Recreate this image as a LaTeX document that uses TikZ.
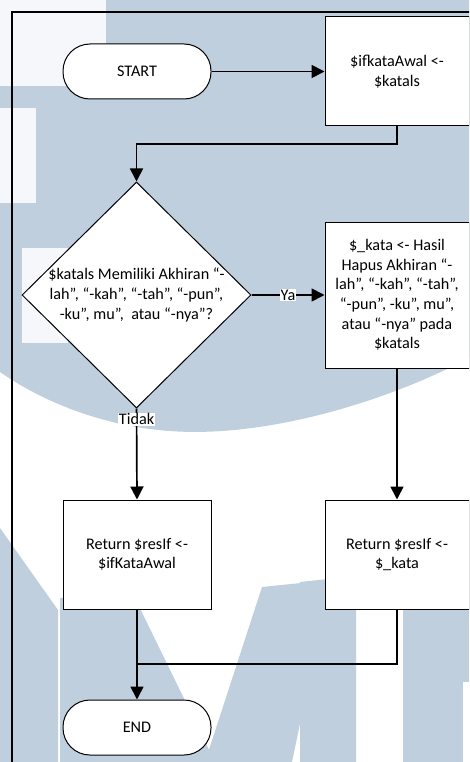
\documentclass[tikz,border=0pt]{standalone}
\usepackage{fontspec}
\setmainfont{Carlito}
\usetikzlibrary{arrows.meta,shapes.geometric}
\definecolor{wmblue}{RGB}{192,207,221}
\definecolor{wmlight}{RGB}{245,247,250}
\begin{document}
\begin{tikzpicture}[x=1pt,y=-1pt,
  every node/.style={font=\fontsize{16.2}{19.6}\selectfont},
  proc/.style={draw=black, line width=1pt, fill=white, minimum width=144pt,
               minimum height=109pt, align=center, inner sep=0pt},
  term/.style={draw=black, line width=1pt, fill=white, rounded corners=27pt,
               minimum width=148pt, minimum height=55pt, inner sep=0pt},
  decision/.style={draw=black, line width=1pt, fill=white, diamond,
               minimum width=229pt, minimum height=226pt, inner sep=0pt},
  flow/.style={line width=1.7pt, -{Triangle[length=13pt,width=13pt]}},
  link/.style={line width=1.7pt},
  tag/.style={fill=white, inner sep=1pt}
]
\clip (0,0) rectangle (469,762);
\fill[white] (0,0) rectangle (469,762);

% background emblem
\fill[wmblue] (0,0) -- (469,0) -- (469,358)
  .. controls (380,405) and (260,438) .. (170,431)
  .. controls (100,426) and (40,400) .. (0,372) -- cycle;
\fill[wmlight] (0,0) rectangle (106,86);
\fill[wmlight] (0,108) rectangle (36,203);
\fill[wmlight] (22,248) rectangle (68,343);
\fill[wmblue] (0,528) -- (58,610) -- (58,762) -- (0,762) -- cycle;
\fill[wmblue] (60,598) -- (132,592) -- (215,762) -- (60,762) -- cycle;
\fill[wmblue] (262,587) -- (330,580) -- (292,762) -- (205,762) -- cycle;
\fill[wmblue] (300,582) -- (356,576) -- (356,762) -- (300,762) -- cycle;
\fill[wmblue] (403,597) -- (469,597) -- (469,762) -- (403,762) -- cycle;
\fill[white] (463,682) rectangle (469,762);

% outer frame
\draw[line width=2pt] (12,12) rectangle (490,790);

% flowchart nodes
\node[term] (start) at (137,71.5) {START};
\node[proc] (init) at (397,71.5) {\$ifkataAwal <-\\\$katals};
\node[decision] (dec) at (136.5,295) {};
\node[align=center] (dectext) at (dec.center)
  {\$katals Memiliki Akhiran “-\\lah”, “-kah”, “-tah”, “-pun”,\\-ku”, mu”,\ \ atau “-nya”?};
\node[proc, minimum height=146pt] (strip) at (397,295)
  {\$\_kata <- Hasil\\Hapus Akhiran “-\\lah”, “-kah”, “-tah”,\\“-pun”, -ku”, mu”,\\atau “-nya” pada\\\$katals};
\node[proc, minimum width=148pt] (retA) at (137,554.5) {Return \$resIf <-\\\$ifKataAwal};
\node[proc] (retB) at (397,554.5) {Return \$resIf <-\\\$\_kata};
\node[term] (end) at (137,727.5) {END};

% connectors
\coordinate (bendA) at (397,144);
\coordinate (bendB) at (136.5,144);
\coordinate (joinR) at (397,664);
\coordinate (joinL) at (137,664);

\draw[flow] (start.east) -- (init.west);
\draw[flow] (init.south) -- (bendA) -- (bendB) -- (dec.north);
\draw[flow] (dec.east) -- node[tag] {Ya} (strip.west);
\draw[flow] (dec.south) -- node[tag, pos=0.12] {Tidak} (retA.north);
\draw[flow] (strip.south) -- (retB.north);
\draw[flow] (retA.south) -- (end.north);
\draw[link] (retB.south) -- (joinR) -- (joinL);
\end{tikzpicture}
\end{document}
